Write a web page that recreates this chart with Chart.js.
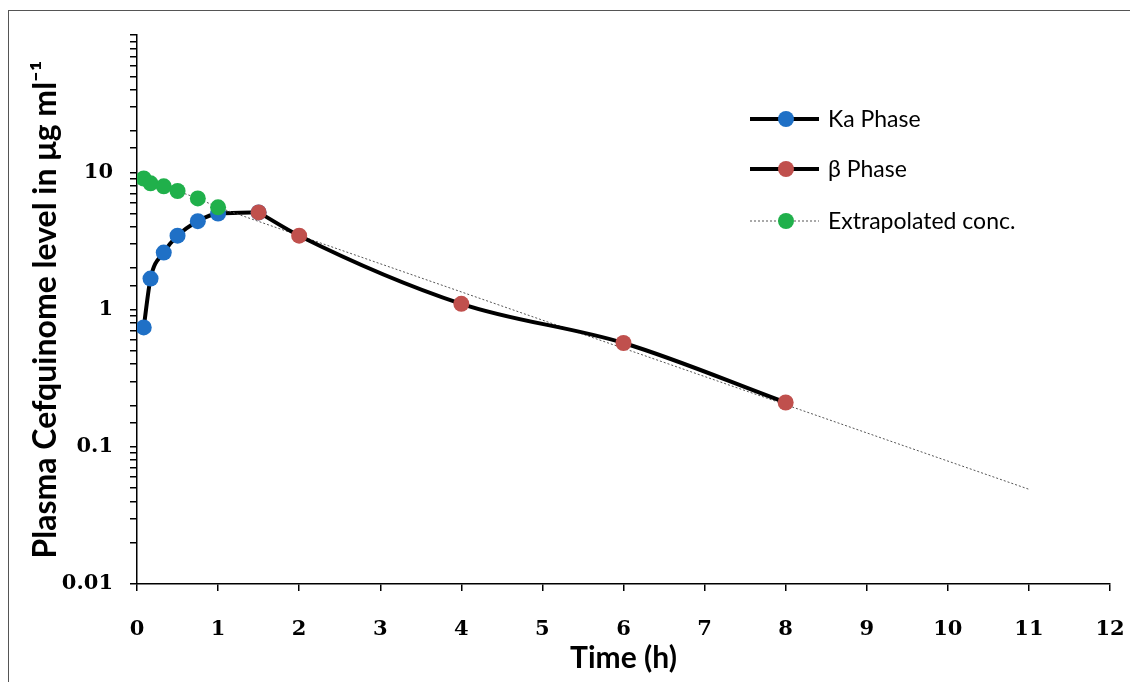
<!DOCTYPE html>
<html>
<head>
<meta charset="utf-8">
<script src="https://cdn.jsdelivr.net/npm/chart.js@4.4.1/dist/chart.umd.min.js"></script>
<style>
body{margin:0;background:#fff;overflow:hidden;}
#wrap{position:relative;width:1130px;height:682px;overflow:hidden;}
#frame{position:absolute;left:8px;top:10px;width:1200px;height:800px;border:1px solid #555;}
canvas{position:absolute;left:0;top:0;}
</style>
</head>
<body>
<div id="wrap"><div id="frame"></div><canvas id="chart-pk" width="1130" height="682"></canvas></div>
<script>
// tiempos (h) y concentraciones (ug/ml)
const kaTime = [0.083, 0.167, 0.33, 0.5, 0.75, 1, 1.5];
const kaConc = [0.74, 1.68, 2.6, 3.45, 4.4, 5.0, 5.1];
const betaTime = [1.5, 2, 4, 6, 8];
const betaConc = [5.1, 3.45, 1.1, 0.57, 0.21];
const extTime = [0.083, 0.167, 0.33, 0.5, 0.75, 1, 11];
const extConc = [9.0, 8.3, 7.9, 7.3, 6.45, 5.55, 0.049];
const extMarker = [true, true, true, true, true, true, false];
const yTickLabels = ['0.01', '0.1', '1', '10'];

const blue = '#1f70c6';
const red = '#c0504d';
const green = '#20b04b';

function toPoints(xs, ys) {
	return xs.map((t, i) => ({ x: t, y: ys[i] }));
}

// leyenda dibujada a mano (lista vertical a la derecha)
const legendPlugin = {
	id: 'pkLegend',
	afterDraw(chart) {
		const c = chart.ctx;
		const rows = [119, 169, 221];
		chart.data.datasets.forEach((ds, i) => {
			const y = rows[i];
			c.save();
			c.strokeStyle = ds.borderColor;
			c.lineWidth = ds.borderWidth;
			c.setLineDash(ds.borderDash || []);
			c.beginPath();
			c.moveTo(750, y);
			c.lineTo(819, y);
			c.stroke();
			c.setLineDash([]);
			c.fillStyle = ds.legendColor;
			c.beginPath();
			c.arc(786, y, 8, 0, Math.PI * 2);
			c.fill();
			c.fillStyle = '#000';
			c.font = '23px Lato';
			c.textBaseline = 'middle';
			c.fillText(ds.label, 828, y + 1);
			c.restore();
		});
	}
};

const ctx = document.getElementById('chart-pk').getContext('2d');
const pkChart = new Chart(ctx, {
	type: 'line',
	data: {
		datasets: [
			{
				label: 'Ka Phase',
				data: toPoints(kaTime, kaConc),
				borderColor: '#000',
				borderWidth: 4,
				pointRadius: 8,
				pointBackgroundColor: blue,
				pointBorderColor: blue,
				pointBorderWidth: 0,
				legendColor: blue,
				cubicInterpolationMode: 'monotone',
				order: 3,
			},
			{
				label: 'β Phase',
				data: toPoints(betaTime, betaConc),
				borderColor: '#000',
				borderWidth: 4,
				pointRadius: 8,
				pointBackgroundColor: red,
				pointBorderColor: red,
				pointBorderWidth: 0,
				legendColor: red,
				cubicInterpolationMode: 'monotone',
				order: 1,
			},
			{
				label: 'Extrapolated conc.',
				data: toPoints(extTime, extConc),
				borderColor: '#555',
				borderWidth: 1,
				borderDash: [2, 2],
				pointRadius: extMarker.map(m => (m ? 8 : 0)),
				pointBackgroundColor: green,
				pointBorderColor: green,
				pointBorderWidth: 0,
				legendColor: green,
				tension: 0,
				order: 2,
			}
		],
	},
	options: {
		responsive: false,
		animation: false,
		layout: { padding: { top: 35, right: 20, left: 0, bottom: 0 } },
		plugins: {
			legend: { display: false },
			tooltip: { enabled: false },
		},
		scales: {
			x: {
				type: 'linear',
				min: 0,
				max: 12,
				ticks: {
					stepSize: 1,
					color: '#000',
					padding: 26,
					font: { family: 'DejaVu Serif', size: 21, weight: 'bold' },
				},
				grid: { drawOnChartArea: false, tickLength: 7, color: '#000', lineWidth: 1.5 },
				border: { color: '#000', width: 1.5 },
				title: {
					display: true,
					text: 'Time (h)',
					color: '#000',
					font: { family: 'Lato', size: 30, weight: 'bold' },
					padding: { top: 0, bottom: 6 },
				},
				afterFit(s) {
					s.height = 98;
					s.paddingLeft = 0;
					s.paddingRight = 0;
				},
			},
			y: {
				type: 'logarithmic',
				min: 0.01,
				max: 100,
				ticks: {
					autoSkip: false,
					color: '#000',
					padding: 17,
					font: { family: 'DejaVu Serif', size: 21, weight: 'bold' },
					callback: function (v) {
						const l = Math.log10(v);
						const r = Math.round(l);
						if (Math.abs(l - r) < 1e-6 && r >= -2 && r <= 1) {
							return yTickLabels[r + 2];
						}
						return '';
					},
				},
				grid: { drawOnChartArea: false, tickLength: 7, color: '#000', lineWidth: 1.5 },
				border: { color: '#000', width: 1.5 },
				title: {
					display: true,
					text: 'Plasma Cefquinome level in μg ml⁻¹',
					color: '#000',
					font: { family: 'Lato', size: 32, weight: 'bold' },
					padding: { top: 26, bottom: 0 },
				},
				afterFit(s) { s.width = 137; },
			},
		},
	},
	plugins: [legendPlugin],
});
</script>
</body>
</html>
